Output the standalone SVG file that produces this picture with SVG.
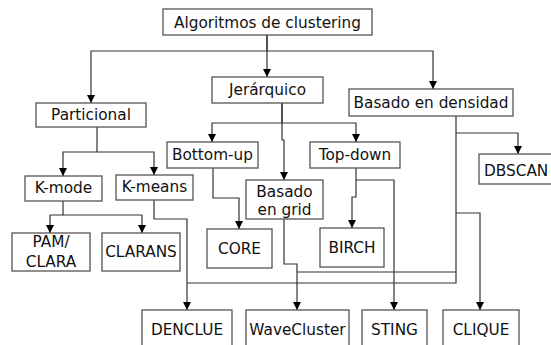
<svg xmlns="http://www.w3.org/2000/svg" width="551" height="345" viewBox="0 0 551 345">
<defs>
<marker id="ah" viewBox="0 0 10 10" refX="10" refY="5" markerWidth="8" markerHeight="8" markerUnits="userSpaceOnUse" orient="auto">
<path d="M0,0 L10,5 L0,10 z" fill="#000"/>
</marker>
<style>
.box{fill:#fff;stroke:#555;stroke-width:1.3}
.t{font-family:"DejaVu Sans",Verdana,sans-serif;font-size:15.3px;fill:#111;text-anchor:middle}
.c{fill:none;stroke:#333;stroke-width:1.2}
</style>
</defs>
<rect width="551" height="345" fill="#fff"/>
<g id="connectors">
<path class="c" d="M267,35 V51 H91 V103" marker-end="url(#ah)"/>
<path class="c" d="M267,35 V77" marker-end="url(#ah)"/>
<path class="c" d="M267,51 H433 V89" marker-end="url(#ah)"/>
<path class="c" d="M282,103 V123 H212 V142" marker-end="url(#ah)"/>
<path class="c" d="M282,123 H356 V142" marker-end="url(#ah)"/>
<path class="c" d="M282,103 V140 H284 V180" marker-end="url(#ah)"/>
<path class="c" d="M97,127 V152 H63 V176" marker-end="url(#ah)"/>
<path class="c" d="M97,152 H154 V175" marker-end="url(#ah)"/>
<path class="c" d="M63,201 V215 H50 V233" marker-end="url(#ah)"/>
<path class="c" d="M63,215 H142 V233" marker-end="url(#ah)"/>
<path class="c" d="M154,200 V219 H187 V310" marker-end="url(#ah)"/>
<path class="c" d="M213,168 V198 H239 V229" marker-end="url(#ah)"/>
<path class="c" d="M356,168 V197 H352 V228" marker-end="url(#ah)"/>
<path class="c" d="M356,180 H394 V310" marker-end="url(#ah)"/>
<path class="c" d="M284,219 V264 H297 V310" marker-end="url(#ah)"/>
<path class="c" d="M456,116 V283 H187"/>
<path class="c" d="M456,272 H297"/>
<path class="c" d="M456,133 H518 V154" marker-end="url(#ah)"/>
<path class="c" d="M456,213 H480 V310" marker-end="url(#ah)"/>
</g>
<g id="root"><rect class="box" x="163" y="9" width="209" height="26"/><text class="t" x="267.5" y="28">Algoritmos de clustering</text></g>
<g id="particional"><rect class="box" x="36" y="103" width="110" height="24"/><text class="t" x="91" y="120">Particional</text></g>
<g id="jerarquico"><rect class="box" x="212" y="77" width="111" height="26"/><text class="t" x="267.5" y="95">Jerárquico</text></g>
<g id="densidad"><rect class="box" x="349" y="89" width="164" height="27"/><text class="t" x="431" y="108">Basado en densidad</text></g>
<g id="kmode"><rect class="box" x="25" y="176" width="77" height="25"/><text class="t" x="63.5" y="193">K-mode</text></g>
<g id="kmeans"><rect class="box" x="116" y="175" width="77" height="25"/><text class="t" x="154.5" y="192">K-means</text></g>
<g id="bottomup"><rect class="box" x="167" y="142" width="91" height="26"/><text class="t" x="212.5" y="160">Bottom-up</text></g>
<g id="topdown"><rect class="box" x="310" y="142" width="90" height="26"/><text class="t" x="355" y="160">Top-down</text></g>
<g id="grid"><rect class="box" x="246" y="180" width="77" height="39"/><text class="t" x="284.5" y="197">Basado</text><text class="t" x="284.5" y="215">en grid</text></g>
<g id="dbscan"><rect class="box" x="479" y="154" width="80" height="30"/><text class="t" x="484" y="176" style="text-anchor:start">DBSCAN</text></g>
<g id="pamclara"><rect class="box" x="12" y="233" width="78" height="38"/><text class="t" x="51" y="247">PAM/</text><text class="t" x="51" y="267">CLARA</text></g>
<g id="clarans"><rect class="box" x="102" y="233" width="78" height="38"/><text class="t" x="141" y="257">CLARANS</text></g>
<g id="core"><rect class="box" x="207" y="229" width="65" height="39"/><text class="t" x="239.5" y="254">CORE</text></g>
<g id="birch"><rect class="box" x="320" y="228" width="64" height="39"/><text class="t" x="352" y="253">BIRCH</text></g>
<g id="denclue"><rect class="box" x="142" y="310" width="90" height="42"/><text class="t" x="187" y="335">DENCLUE</text></g>
<g id="wavecluster"><rect class="box" x="246" y="310" width="103" height="42"/><text class="t" x="297.5" y="335">WaveCluster</text></g>
<g id="sting"><rect class="box" x="362" y="310" width="65" height="42"/><text class="t" x="394.5" y="335">STING</text></g>
<g id="clique"><rect class="box" x="443" y="310" width="76" height="42"/><text class="t" x="481" y="335">CLIQUE</text></g>
</svg>
